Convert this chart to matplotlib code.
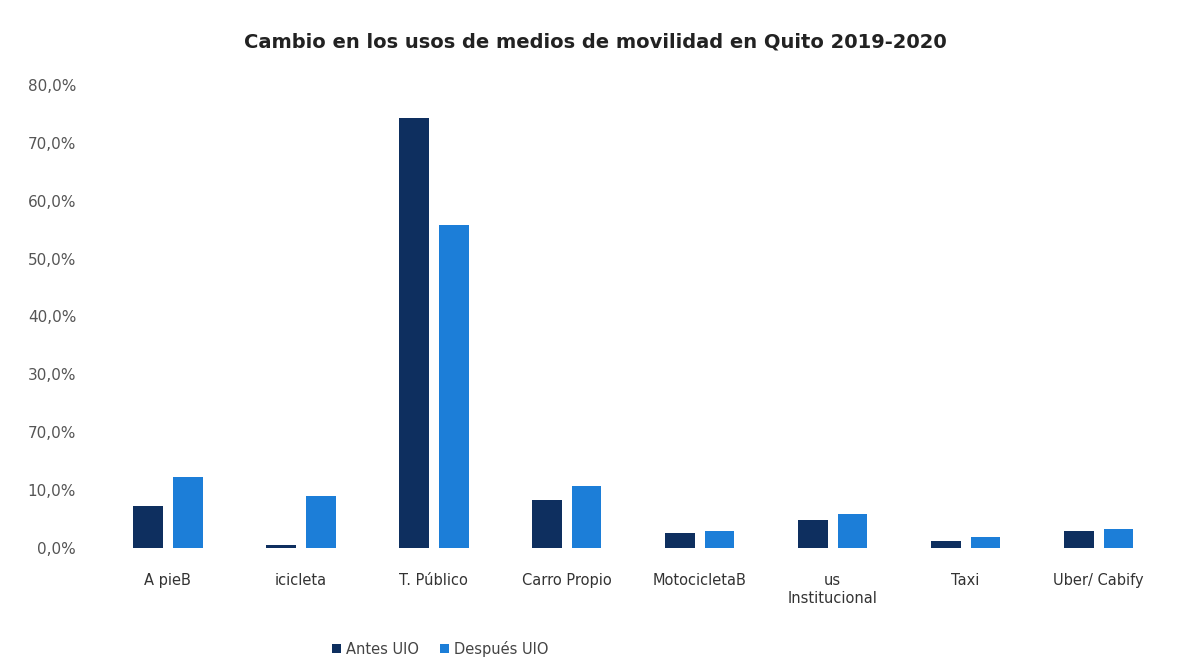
import numpy as np
import matplotlib.pyplot as plt

categorias = ["A pieB", "icicleta", "T. Público", "Carro Propio", "MotocicletaB",
              "us\nInstitucional", "Taxi", "Uber/ Cabify"]
antes = [7.3, 0.5, 74.3, 8.3, 2.6, 4.8, 1.2, 2.9]
despues = [12.3, 9.0, 55.8, 10.7, 2.9, 6.0, 1.9, 3.3]
yticks = [0, 10, 20, 30, 40, 50, 60, 70, 80]
ytick_labels = ["0,0%", "10,0%", "70,0%", "30,0%", "40,0%", "50,0%", "60,0%", "70,0%", "80,0%"]

plt.rcParams['font.family'] = ['DejaVu Sans']

fig = plt.figure(figsize=(11.9, 6.67), dpi=100)
ax = fig.add_axes([0.085, 0.178, 0.894, 0.695])

x = np.arange(len(categorias))
w = 0.225
ax.bar(x - 0.15, antes, w, color="#0e2f5f", label="Antes UIO")
ax.bar(x + 0.15, despues, w, color="#1c7ed8", label="Después UIO")

ax.set_xlim(-0.5, len(categorias) - 0.5)
ax.set_ylim(0, 80)
ax.set_yticks(yticks)
ax.set_yticklabels(ytick_labels, color="#555555", fontsize=11)
ax.set_xticks(x)
ax.set_xticklabels(categorias, color="#333333", fontsize=10.5)
ax.tick_params(axis='x', length=0, pad=18)
ax.tick_params(axis='y', length=0, pad=18)
for s in ax.spines.values():
    s.set_visible(False)

fig.text(0.5, 0.937, "Cambio en los usos de medios de movilidad en Quito 2019-2020",
         ha="center", va="center", fontsize=14, fontweight="bold", color="#222222")
fig.legend(loc="center", bbox_to_anchor=(0.37, 0.027), ncol=2, frameon=False,
           fontsize=10.5, handlelength=0.6, handleheight=0.6, handletextpad=0.3,
           columnspacing=1.5, labelcolor="#444444")

fig.savefig("out.png", dpi=100, facecolor="white")
